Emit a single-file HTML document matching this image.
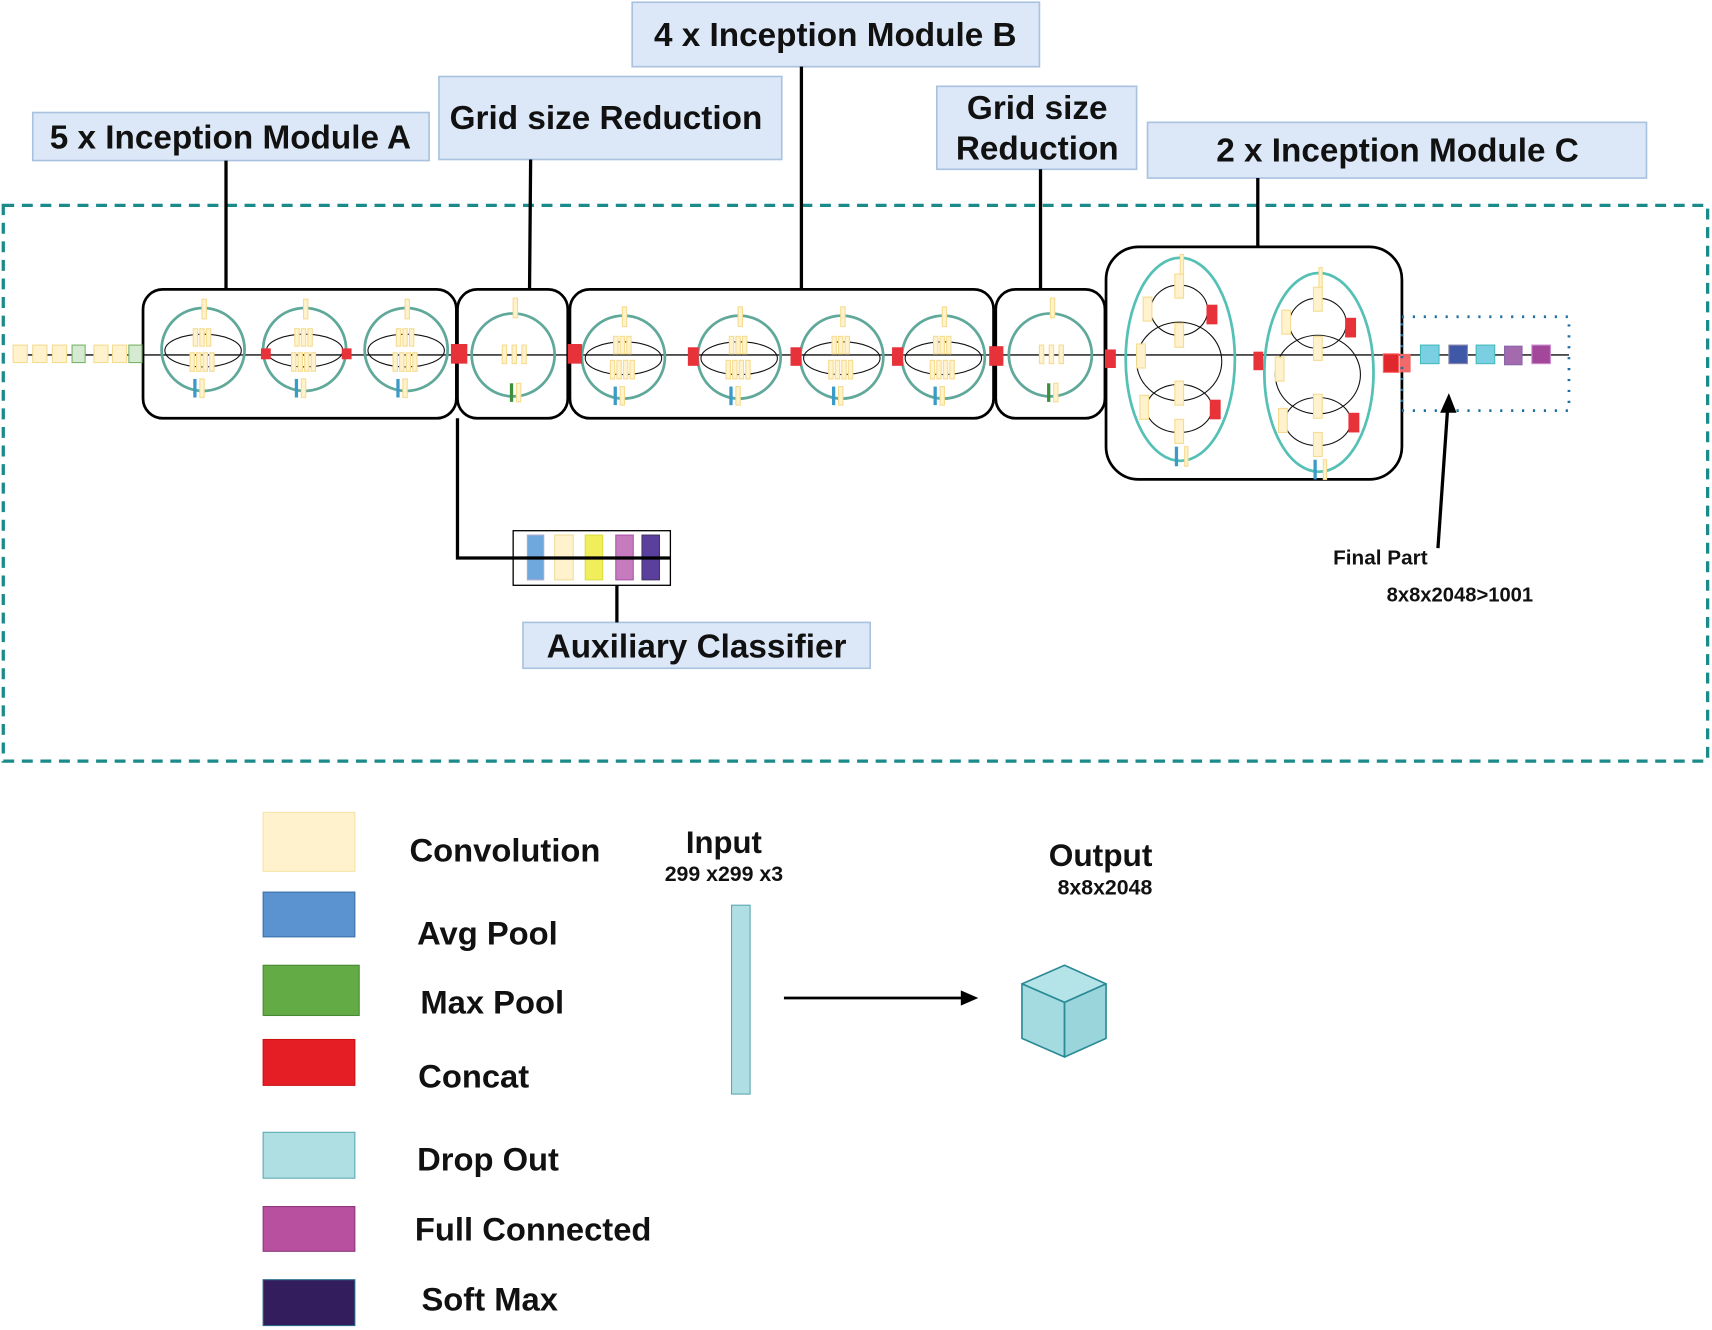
<!DOCTYPE html>
<html><head><meta charset="utf-8"><style>
html,body{margin:0;padding:0;background:#fff}
svg{display:block}
text{font-family:"Liberation Sans",Arial,sans-serif;font-weight:bold;fill:#111}
</style></head><body>
<svg id="s" width="1712" height="1330" viewBox="0 0 1568 1218" xmlns="http://www.w3.org/2000/svg">
<rect x="3" y="188" width="1561" height="509" fill="none" stroke="#1a8a8a" stroke-width="3" stroke-dasharray="10,7"/>
<g fill="#dce8f7" stroke="#a9c2e0" stroke-width="1.5">
<rect x="30" y="103" width="363" height="44"/>
<rect x="402" y="70" width="314" height="76"/>
<rect x="579" y="2" width="373" height="59"/>
<rect x="858" y="79" width="183" height="76"/>
<rect x="1051" y="112" width="457" height="51"/>
<rect x="479" y="570" width="318" height="42"/>
</g>
<g font-size="30.5" text-anchor="middle">
<text x="211" y="136">5 x Inception Module A</text>
<text x="555" y="118">Grid size Reduction</text>
<text x="765" y="42">4 x Inception Module B</text>
<text x="950" y="109">Grid size</text>
<text x="950" y="146">Reduction</text>
<text x="1280" y="148">2 x Inception Module C</text>
<text x="638" y="602">Auxiliary Classifier</text>
</g>
<g stroke="#000" stroke-width="3" fill="none">
<line x1="207" y1="147" x2="207" y2="265"/>
<line x1="486" y1="146" x2="485" y2="265"/>
<line x1="734" y1="61" x2="734" y2="265"/>
<line x1="953" y1="155" x2="953" y2="265"/>
<line x1="1152" y1="163" x2="1152" y2="226"/>
<line x1="565" y1="536" x2="565" y2="570"/>
<polyline points="419,383 419,511 614,511"/>
</g>
<line x1="12" y1="325" x2="1437" y2="325" stroke="#333" stroke-width="1.5"/>
<g fill="none" stroke="#000" stroke-width="2.5">
<rect x="131" y="265" width="287" height="118" rx="18"/>
<rect x="419" y="265" width="101" height="118" rx="18"/>
<rect x="522" y="265" width="388" height="118" rx="18"/>
<rect x="912" y="265" width="100" height="118" rx="18"/>
<rect x="1013" y="226" width="271" height="213" rx="30"/>
</g>
<rect x="470" y="486" width="144" height="50" fill="#fff" stroke="#000" stroke-width="1.2"/>
<rect x="483" y="490" width="15" height="41" fill="#6fa8dc" stroke="#aac"/>
<rect x="508" y="490" width="17" height="41" fill="#fff2cc" stroke="#f0dc9a"/>
<rect x="536" y="490" width="16" height="41" fill="#f0ee5a" stroke="#dd4"/>
<rect x="564" y="490" width="16" height="41" fill="#c77bbf" stroke="#a5a"/>
<rect x="588" y="490" width="16" height="41" fill="#5b3f9e" stroke="#436"/>
<line x1="470" y1="511" x2="614" y2="511" stroke="#000" stroke-width="3"/>
<g id="g"></g>
<rect x="1284" y="290" width="153" height="86" fill="none" stroke="#1f6fa0" stroke-width="2.5" stroke-dasharray="2,8"/>
<line x1="1317" y1="502" x2="1326" y2="372" stroke="#000" stroke-width="3"/>
<polygon points="1327,360 1319,378 1334,378" fill="#000"/>
<text x="1221" y="517" font-size="19">Final Part</text>
<text x="1270" y="551" font-size="18.5">8x8x2048&gt;1001</text>
<rect x="241" y="744" width="84" height="54" fill="#fff2cc" stroke="#f5e3a8"/>
<rect x="241" y="817" width="84" height="41" fill="#5b93d0" stroke="#3a70a8"/>
<rect x="241" y="884" width="88" height="46" fill="#62ab45" stroke="#4a8a35"/>
<rect x="241" y="952" width="84" height="42" fill="#e51e25" stroke="#c11"/>
<rect x="241" y="1037" width="84" height="42" fill="#b0dfe3" stroke="#5aa9b3"/>
<rect x="241" y="1105" width="84" height="41" fill="#b94f9f" stroke="#8a3a7a"/>
<rect x="241" y="1172" width="84" height="42" fill="#341d5d" stroke="#2a6a8a"/>
<g font-size="30">
<text x="375" y="789">Convolution</text>
<text x="382" y="865">Avg Pool</text>
<text x="385" y="928">Max Pool</text>
<text x="383" y="996">Concat</text>
<text x="382" y="1072">Drop Out</text>
<text x="380" y="1136">Full Connected</text>
<text x="386" y="1200">Soft Max</text>
</g>
<text x="663" y="781" font-size="28.5" text-anchor="middle">Input</text>
<text x="663" y="807" font-size="19.5" text-anchor="middle">299 x299 x3</text>
<rect x="670" y="829" width="17" height="173" fill="#b0dfe3" stroke="#5aa9b3"/>
<line x1="718" y1="914" x2="884" y2="914" stroke="#000" stroke-width="2.5"/>
<polygon points="896,914 880,907 880,921" fill="#000"/>
<text x="1008" y="793" font-size="29" text-anchor="middle">Output</text>
<text x="1012" y="819" font-size="19.5" text-anchor="middle">8x8x2048</text>
<g stroke="#2a8a95" stroke-width="1.5" stroke-linejoin="round">
<polygon points="936,901 975,884 1013,901 975,918" fill="#b5e4e8"/>
<polygon points="936,901 975,918 975,968 936,951" fill="#a4dbe0"/>
<polygon points="975,918 1013,901 1013,951 975,968" fill="#9ad5db"/>
</g>
</svg>
<script>
var g=document.getElementById('g'),h='';
function R(x,y,w,hh,f,s){h+='<rect x="'+x+'" y="'+y+'" width="'+w+'" height="'+hh+'" fill="'+f+'" stroke="'+(s||'none')+'"/>';}
var Y='#fff2cc',YS='#f5dc90',RED='#e8323a';
[12,30,48,86,103].forEach(function(x){R(x,316,13,16,Y,YS)});
[66,118].forEach(function(x){R(x,316,12,16,'#d5ead0','#7ab36a')});
function circ(cx,cy,bot){
 h+='<circle cx="'+cx+'" cy="'+cy+'" r="38" fill="none" stroke="#5fa89a" stroke-width="2.5"/>';
 h+='<ellipse cx="'+cx+'" cy="'+(cy+1)+'" rx="35" ry="15" fill="none" stroke="#111" stroke-width="1"/>';
 R(cx-1,cy-46,4,18,Y,YS);
 for(var i=0;i<3;i++)R(cx-9+i*6,cy-19,4,16,Y,YS);
 for(var i=0;i<4;i++)R(cx-12+i*6,cy+3,4,17,Y,YS);
 R(cx-9,cy+27,3,17,bot||'#3a9ac8');R(cx-3,cy+27,4,17,Y,YS);
}
[186,279,372].forEach(function(x){circ(x,320)});
[571,677,771,864].forEach(function(x){circ(x,327)});
function gr(cx,cy){h+='<circle cx="'+cx+'" cy="'+cy+'" r="38" fill="none" stroke="#5fa89a" stroke-width="2.5"/>';
 R(cx,cy-52,4,18,Y,YS);for(var i=0;i<3;i++)R(cx-10+i*9,cy-9,4,17,Y,YS);R(cx-3,cy+26,3,17,'#3e8f3a');R(cx+3,cy+26,4,17,Y,YS);}
gr(470,325);gr(962,325);
R(239,319,9,10,RED);R(313,319,9,10,RED);
R(413,315,15,18,RED);R(520,315,13,18,RED);R(630,318,10,17,RED);R(724,318,10,17,RED);R(817,318,10,17,RED);R(906,317,13,18,RED);R(1012,320,10,17,RED);
function cm(cx,cy,rx,ry,t){
 h+='<ellipse cx="'+cx+'" cy="'+cy+'" rx="'+rx+'" ry="'+ry+'" fill="none" stroke="#55c0b5" stroke-width="2.5"/>';
 h+='<ellipse cx="'+(t+0)+'" cy="'+(cy-45)+'" rx="26" ry="23" fill="none" stroke="#111"/>';
 h+='<ellipse cx="'+t+'" cy="'+(cy+2)+'" rx="39" ry="36" fill="none" stroke="#111"/>';
 h+='<ellipse cx="'+t+'" cy="'+(cy+45)+'" rx="30" ry="22" fill="none" stroke="#111"/>';
 R(t-4,cy-78,8,22,Y,YS);R(t-4,cy-33,8,22,Y,YS);R(t-4,cy+20,8,22,Y,YS);R(t-4,cy+55,8,22,Y,YS);
 R(t-33,cy-57,8,22,Y,YS);R(t+25,cy-50,10,18,RED);R(t-36,cy+33,8,22,Y,YS);R(t+28,cy+37,10,18,RED);
 R(cx-40,cy-14,8,22,Y,YS);R(cx-5,cy+80,3,18,'#3a9ac8');R(cx+4,cy+80,3,18,Y,YS);R(cx,cy-96,3,18,Y,YS);
}
cm(1081,329,50,93,1080);cm(1208,341,50,91,1207);
R(1148,322,9,17,RED);R(1267,324,14,17,'#e0282c','#f66');R(1282,324,10,17,'#f06a6a');
R(1301,316,17,17,'#7ad0e2','#4bb');R(1327,316,17,17,'#4058a8','#88a');R(1352,316,17,17,'#7ad0e2','#4bb');R(1378,317,16,17,'#a46aae','#86a');R(1403,316,17,17,'#a2479a','#c8c');
g.innerHTML=h;
</script>
</body></html>
